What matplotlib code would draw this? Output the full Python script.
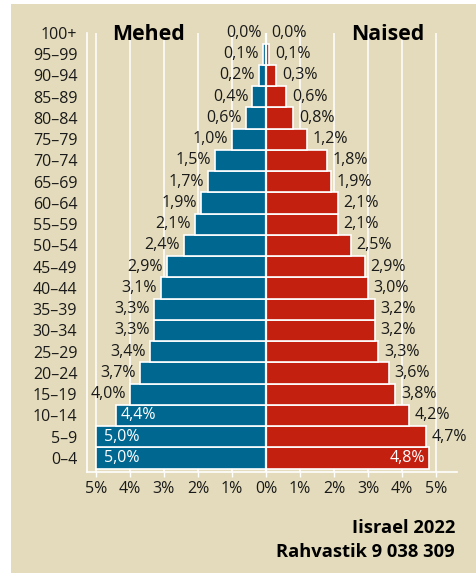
import matplotlib
matplotlib.use("Agg")
import matplotlib.pyplot as plt
from matplotlib.patches import Rectangle

plt.rcParams['font.family'] = ['Open Sans', 'DejaVu Sans']

age_groups = ["0–4", "5–9", "10–14", "15–19", "20–24", "25–29", "30–34", "35–39",
              "40–44", "45–49", "50–54", "55–59", "60–64", "65–69", "70–74", "75–79",
              "80–84", "85–89", "90–94", "95–99", "100+"]
men = [5.0, 5.0, 4.4, 4.0, 3.7, 3.4, 3.3, 3.3, 3.1, 2.9, 2.4, 2.1, 1.9, 1.7, 1.5, 1.0,
       0.6, 0.4, 0.2, 0.1, 0.0]
women = [4.8, 4.7, 4.2, 3.8, 3.6, 3.3, 3.2, 3.2, 3.0, 2.9, 2.5, 2.1, 2.1, 1.9, 1.8, 1.2,
         0.8, 0.6, 0.3, 0.1, 0.0]
x_ticks = [-5, -4, -3, -2, -1, 0, 1, 2, 3, 4, 5]
x_ticklabels = ["5%", "4%", "3%", "2%", "1%", "0%", "1%", "2%", "3%", "4%", "5%"]
title_men = "Mehed"
title_women = "Naised"
footer_1 = "Iisrael 2022"
footer_2 = "Rahvastik 9 038 309"

BLUE = "#006791"
RED = "#C42010"
BEIGE = "#E3DBBB"
TXT = "#1a1a1a"

W, H = 477, 573
fig = plt.figure(figsize=(W / 100, H / 100), dpi=100)
fig.patch.set_facecolor("white")
bg = Rectangle((11 / W, 0), 1 - 11 / W, 1 - 4 / H, transform=fig.transFigure,
               facecolor=BEIGE, edgecolor="none", zorder=-10)
fig.add_artist(bg)

ax = fig.add_axes([87 / W, (H - 472) / H, 370 / W, (472 - 33) / H])
ax.set_facecolor("none")
ax.set_zorder(1)

y = list(range(len(age_groups)))
ax.barh(y, [-m for m in men], height=1.0, color=BLUE, edgecolor="white", linewidth=1.2, zorder=2)
ax.barh(y, women, height=1.0, color=RED, edgecolor="white", linewidth=1.2, zorder=2)

for xv in x_ticks:
    ax.axvline(xv, color="white", lw=1.1, zorder=1)
ax.axvline(0, color="white", lw=1.6, zorder=3)

fs = 11.5
for i, (m, w) in enumerate(zip(men, women)):
    ml = f"{m:.1f}%".replace(".", ",")
    wl = f"{w:.1f}%".replace(".", ",")
    if m >= 4.4:
        off = 3 if m < 4.9 else 6
        ax.annotate(ml, (-m, i), xytext=(off, 0), textcoords="offset points",
                    ha="left", va="center", color="white", fontsize=fs, zorder=4)
    else:
        ax.annotate(ml, (-m, i), xytext=(-3, 0), textcoords="offset points",
                    ha="right", va="center", color=TXT, fontsize=fs, zorder=4)
    if w >= 4.8:
        ax.annotate(wl, (w, i), xytext=(-3, 0), textcoords="offset points",
                    ha="right", va="center", color="white", fontsize=fs, zorder=4)
    else:
        ax.annotate(wl, (w, i), xytext=(4, 0), textcoords="offset points",
                    ha="left", va="center", color=TXT, fontsize=fs, zorder=4)

ax.set_xlim(-5.26, 5.61)
ax.set_ylim(-0.66, 20.0)
ax.set_yticks(y)
ax.set_yticklabels(age_groups, fontsize=fs, color=TXT)
ax.set_xticks(x_ticks)
ax.set_xticklabels(x_ticklabels, fontsize=fs, color=TXT)
ax.tick_params(axis="y", length=0, pad=7)
ax.tick_params(axis="x", length=3.6, width=1, color="white", pad=3)
for s in ["top", "right"]:
    ax.spines[s].set_visible(False)
for s in ["left", "bottom"]:
    ax.spines[s].set_color("white")
    ax.spines[s].set_linewidth(1.2)
ax.spines["bottom"].set_zorder(5)

fig.text(148.5 / W, 1 - 35 / H, title_men, ha="center", va="center", fontsize=15.3,
         fontweight="bold", color="black")
fig.text(387.5 / W, 1 - 35 / H, title_women, ha="center", va="center", fontsize=15.3,
         fontweight="bold", color="black")
fig.text(455 / W, 1 - 528 / H, footer_1, ha="right", va="center", fontsize=13.2,
         fontweight="bold", color="black")
fig.text(455 / W, 1 - 552 / H, footer_2, ha="right", va="center", fontsize=13.2,
         fontweight="bold", color="black")

fig.savefig("out.png", dpi=100)
